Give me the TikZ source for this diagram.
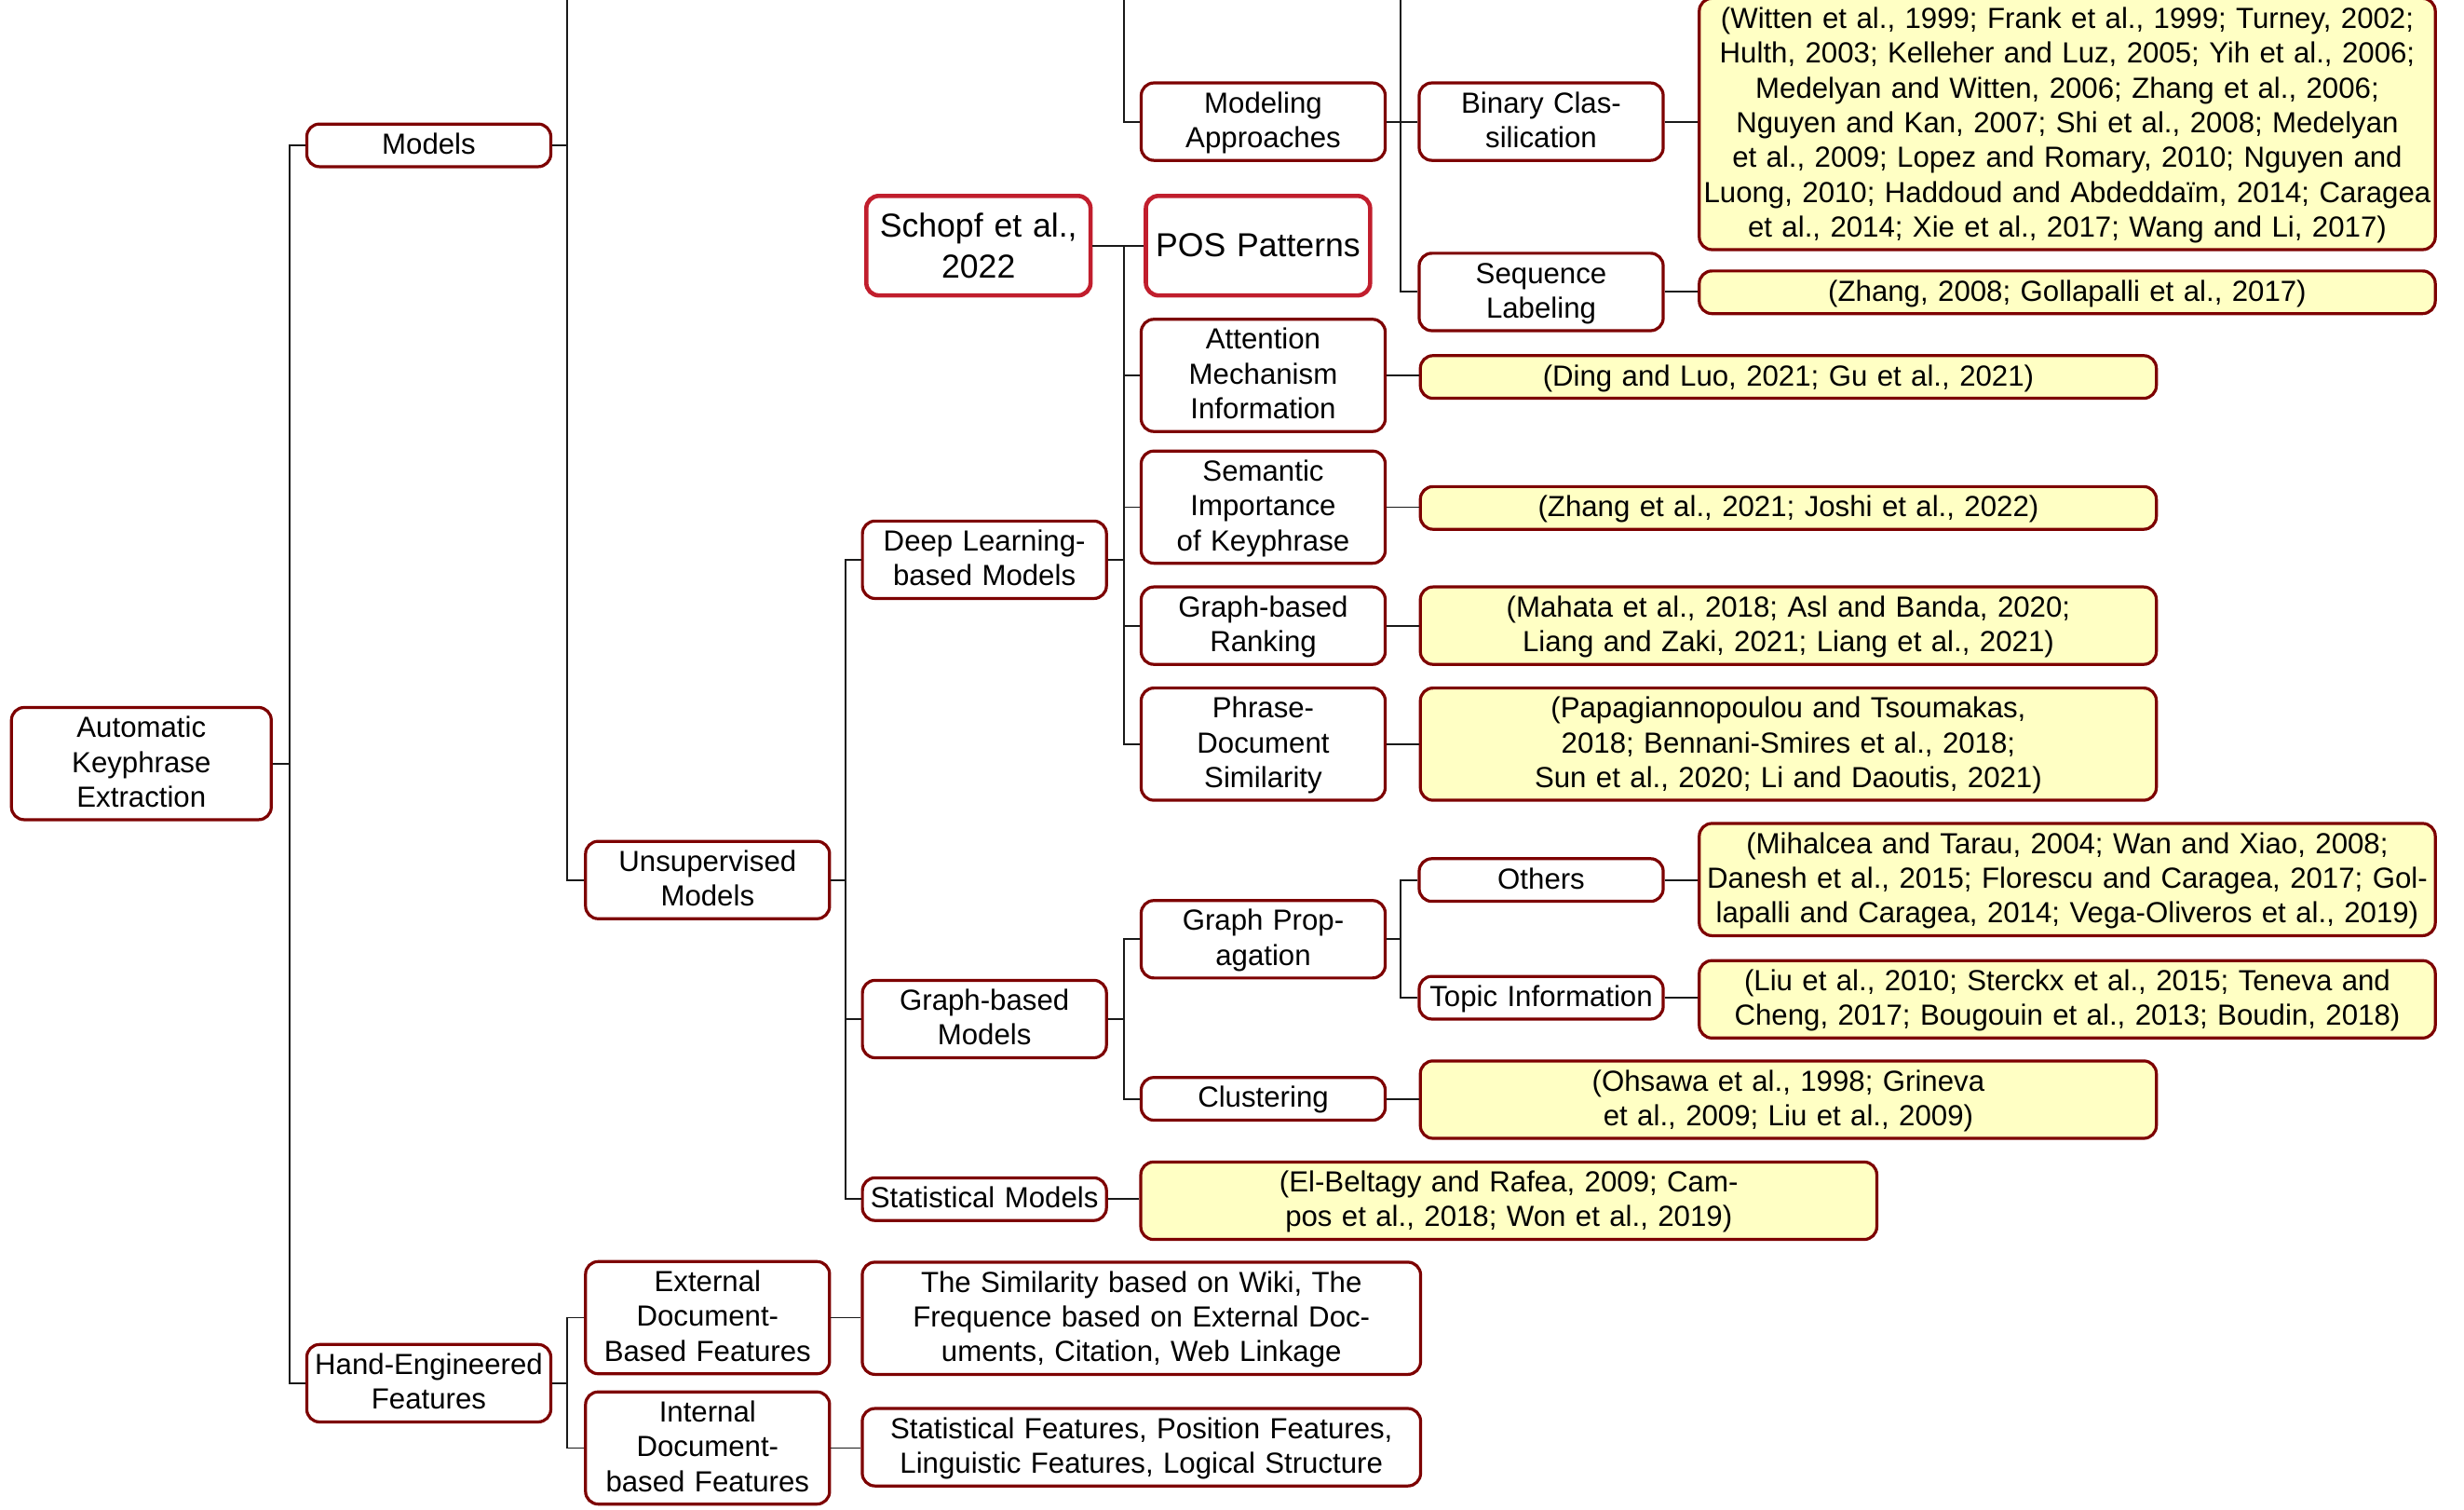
\documentclass[tikz,border=0pt]{standalone}
\usepackage{fontspec}
\setmainfont{Liberation Sans}
\usepackage{xcolor}
\usepackage{tikz}
\usetikzlibrary{positioning,calc}

\definecolor{boxred}{RGB}{125,0,0}
\definecolor{newred}{RGB}{193,30,45}
\definecolor{leafyellow}{RGB}{255,255,196}
\definecolor{linegray}{RGB}{25,25,25}

\newcommand{\boxstrut}{\rule[-5.5pt]{0pt}{22pt}}

\tikzset{
    cat/.style={draw=boxred, line width=1.9pt, rounded corners=8pt, fill=white,
        align=center, text width=149pt, inner xsep=2.75pt, inner ysep=2.5pt,
        font=\fontsize{18.4}{22}\selectfont,
        execute at begin node=\boxstrut, execute at end node=\boxstrut},
    rootbox/.style={cat, text width=159pt},
    leaf/.style={cat, fill=leafyellow, text width=461pt, inner xsep=2.5pt},
    feat/.style={cat, text width=348pt},
    newbox/.style={draw=newred, line width=2.7pt, rounded corners=8pt, fill=white,
        align=center, text width=136pt, inner xsep=3pt, inner ysep=5.5pt,
        minimum height=63pt, font=\fontsize{21}{26}\selectfont},
    link/.style={draw=linegray, line width=1.1pt},
}

\begin{document}
\begin{tikzpicture}[x=1pt, y=-1pt]
    \useasboundingbox (0,0) rectangle (1560.1,955.2);

    % spine positions
    \coordinate (kTrunk) at (183.5,0);
    \coordinate (kModels) at (359,0);
    \coordinate (kUnsup) at (535.5,0);
    \coordinate (kDeep) at (711.5,0);
    \coordinate (kModeling) at (887,0);

    % Root and first level
    \node [rootbox] (root) at (89.5,483.3) {Automatic\\Keyphrase\\Extraction};
    \node [cat] (models) at (271.5,92) {Models};
    \node [cat] (hand) at (271.5,875.5) {Hand-Engineered\\Features};

    % Models
    \node [cat] (unsup) at (448,557) {Unsupervised\\Models};
    \node [cat] (deep) at (623.3,354.3) {Deep Learning-\\based Models};
    \node [cat] (graph) at (623.3,645) {Graph-based\\Models};
    \node [cat] (stat) at (623.3,759) {Statistical Models};
    \node [leaf] (statleaf) at (955.3,760) {(El-Beltagy and Rafea, 2009; Cam-\\pos et al., 2018; Won et al., 2019)};

    % Supervised modeling approaches
    \node [cat] (modeling) at (799.8,77) {Modeling\\Approaches};
    \node [cat] (binary) at (975.8,77) {Binary Clas-\\silication};
    \node [cat] (seq) at (975.8,184.8) {Sequence\\Labeling};
    \node [leaf] (binleaf) at (1308.9,78.5) {(Witten et al., 1999; Frank et al., 1999; Turney, 2002;\\Hulth, 2003; Kelleher and Luz, 2005; Yih et al., 2006;\\Medelyan and Witten, 2006; Zhang et al., 2006;\\Nguyen and Kan, 2007; Shi et al., 2008; Medelyan\\et al., 2009; Lopez and Romary, 2010; Nguyen and\\Luong, 2010; Haddoud and Abdeddaïm, 2014; Caragea\\et al., 2014; Xie et al., 2017; Wang and Li, 2017)};
    \node [leaf] (seqleaf) at (1308.9,185) {(Zhang, 2008; Gollapalli et al., 2017)};

    % Deep learning
    \node [newbox] (schopf) at (619.5,155.5) {Schopf et al.,\\2022};
    \node [newbox] (pos) at (796.5,155.5) {POS Patterns};
    \node [cat] (att) at (799.8,237.6) {Attention\\Mechanism\\Information};
    \node [cat] (sem) at (799.8,321) {Semantic\\Importance\\of Keyphrase};
    \node [cat] (rank) at (799.8,396) {Graph-based\\Ranking};
    \node [cat] (phrase) at (799.8,471) {Phrase-\\Document\\Similarity};
    \node [leaf] (attleaf) at (1132.3,238.6) {(Ding and Luo, 2021; Gu et al., 2021)};
    \node [leaf] (semleaf) at (1132.3,321.5) {(Zhang et al., 2021; Joshi et al., 2022)};
    \node [leaf] (rankleaf) at (1132.3,396) {(Mahata et al., 2018; Asl and Banda, 2020;\\Liang and Zaki, 2021; Liang et al., 2021)};
    \node [leaf] (phraseleaf) at (1132.3,471) {(Papagiannopoulou and Tsoumakas,\\2018; Bennani-Smires et al., 2018;\\Sun et al., 2020; Li and Daoutis, 2021)};

    % Graph-based
    \node [cat] (gprop) at (799.8,594.5) {Graph Prop-\\agation};
    \node [cat] (clus) at (799.8,695.5) {Clustering};
    \node [leaf] (clusleaf) at (1132.3,696) {(Ohsawa et al., 1998; Grineva\\et al., 2009; Liu et al., 2009)};
    \node [cat] (others) at (975.8,557) {Others};
    \node [cat] (topic) at (975.8,631.5) {Topic Information};
    \node [leaf] (othersleaf) at (1308.9,556.7) {(Mihalcea and Tarau, 2004; Wan and Xiao, 2008;\\Danesh et al., 2015; Florescu and Caragea, 2017; Gol-\\lapalli and Caragea, 2014; Vega-Oliveros et al., 2019)};
    \node [leaf] (topicleaf) at (1308.9,632.5) {(Liu et al., 2010; Sterckx et al., 2015; Teneva and\\Cheng, 2017; Bougouin et al., 2013; Boudin, 2018)};

    % Hand-engineered features
    \node [cat] (ext) at (448,834) {External\\Document-\\Based Features};
    \node [cat] (int) at (448,916.5) {Internal\\Document-\\based Features};
    \node [feat] (extf) at (722.7,834.4) {The Similarity based on Wiki, The\\Frequence based on External Doc-\\uments, Citation, Web Linkage};
    \node [feat] (intf) at (722.7,916) {Statistical Features, Position Features,\\Linguistic Features, Logical Structure};

    % Connectors
    \draw [link] (root.east) -- (kTrunk |- root.east);
    \draw [link] (models.west) -| (kTrunk |- hand.west) -- (hand.west);

    \draw [link] (models.east) -- (kModels |- models.east);
    \draw [link] (kModels) |- (unsup.west);
    \draw [link] (hand.east) -- (kModels |- hand.east);
    \draw [link] (ext.west) -| (kModels |- int.west) -- (int.west);
    \draw [link] (ext.east) -- (ext.east -| extf.west);
    \draw [link] (int.east) -- (int.east -| intf.west);

    \draw [link] (unsup.east) -- (kUnsup |- unsup.east);
    \draw [link] (deep.west) -| (kUnsup |- stat.west) -- (stat.west);
    \draw [link] (kUnsup |- graph.west) -- (graph.west);
    \draw [link] (stat.east) -- (stat.east -| statleaf.west);

    \draw [link] (kDeep) |- (modeling.west);
    \draw [link] (modeling.east) -- (binary.west);
    \draw [link] (kModeling) |- (seq.west);
    \draw [link] (binary.east) -- (binary.east -| binleaf.west);
    \draw [link] (seq.east) -- (seq.east -| seqleaf.west);

    \draw [link] (deep.east) -- (kDeep |- deep.east);
    \draw [link] (schopf.east) -- (pos.west);
    \draw [link] (kDeep |- pos.west) |- (phrase.west);
    \draw [link] (kDeep |- att.west) -- (att.west);
    \draw [link] (kDeep |- sem.west) -- (sem.west);
    \draw [link] (kDeep |- rank.west) -- (rank.west);
    \draw [link] (att.east) -- (att.east -| attleaf.west);
    \draw [link] (sem.east) -- (sem.east -| semleaf.west);
    \draw [link] (rank.east) -- (rank.east -| rankleaf.west);
    \draw [link] (phrase.east) -- (phrase.east -| phraseleaf.west);

    \draw [link] (graph.east) -- (kDeep |- graph.east);
    \draw [link] (gprop.west) -| (kDeep |- clus.west) -- (clus.west);
    \draw [link] (clus.east) -- (clus.east -| clusleaf.west);
    \draw [link] (gprop.east) -- (kModeling |- gprop.east);
    \draw [link] (others.west) -| (kModeling |- topic.west) -- (topic.west);
    \draw [link] (others.east) -- (others.east -| othersleaf.west);
    \draw [link] (topic.east) -- (topic.east -| topicleaf.west);
\end{tikzpicture}
\end{document}
